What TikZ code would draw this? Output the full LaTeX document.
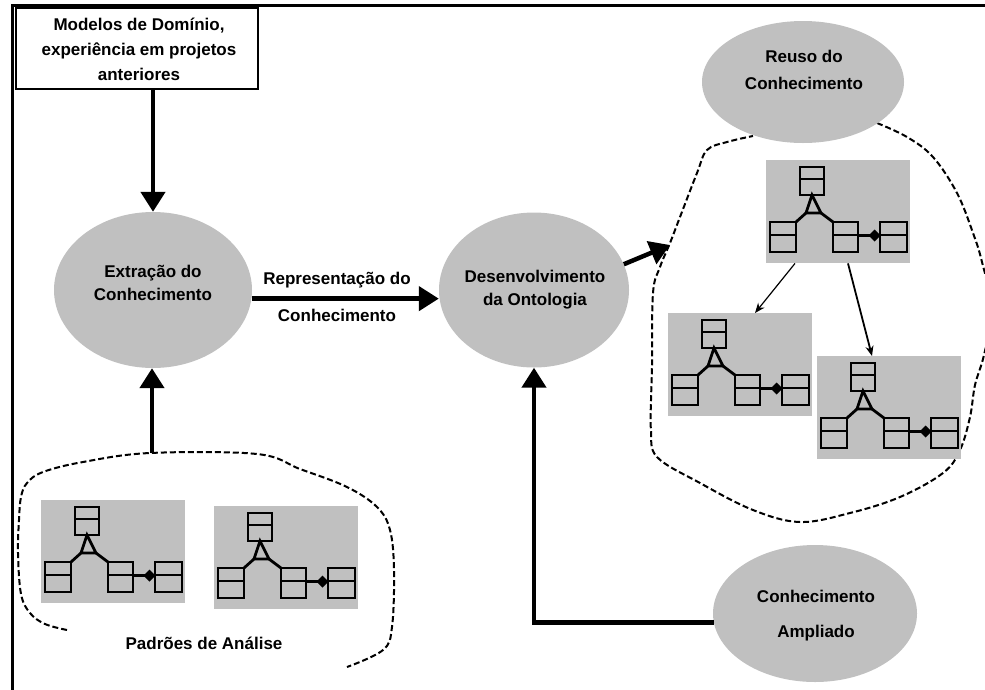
\documentclass[tikz,border=0pt]{standalone}
\usepackage{fontspec}
\setmainfont{Liberation Sans}
\usetikzlibrary{arrows.meta,shapes.geometric,calc}
\definecolor{panelgray}{HTML}{C0C0C0}

\begin{document}
\begin{tikzpicture}[x=1pt,y=-1pt,
  txt/.style={font=\fontsize{17}{#1}\selectfont\bfseries, align=center, inner sep=0pt},
  blob/.style={ellipse, fill=panelgray, inner sep=0pt},
  umlbg/.style={anchor=north west, fill=panelgray, inner sep=0pt,
                minimum width=144pt, minimum height=103pt},
  cls/.style={line width=2.8pt, line join=miter},
  bigarrow/.style={line width=4.5pt, -{Triangle[length=20pt,width=24pt]}},
  thinarrow/.style={line width=#1, -{Stealth[length=10pt,width=8pt]}},
  region/.style={line width=2pt, dash pattern=on 6pt off 3pt},
  frame/.style={line width=3pt},
  umlpic/.pic={
    % superclass with generalisation triangle
    \draw[cls] (34,7) rectangle (58,35) (34,19) -- (58,19);
    \draw[cls] (46,35) -- (40,53) -- (55,53) -- cycle;
    \draw[cls] (40,53) -- (30,62);
    \draw[cls] (55,53) -- (67,62);
    % subclasses
    \draw[cls] (4,62) rectangle (30,92) (4,75) -- (30,75);
    \draw[cls] (67,62) rectangle (92,92) (67,75) -- (92,75);
    % composition
    \draw[cls] (92,75.5) -- (104,75.5);
    \fill (102.5,75.5) -- (108.5,69.5) -- (114.5,75.5) -- (108.5,81.5) -- cycle;
    \draw[cls] (114,62) rectangle (141,92) (114,75) -- (141,75);
  },
]
\useasboundingbox (0,0) rectangle (985,689);

% page frame
\draw[frame] (12,700) -- (12,5) -- (1000,5);

% dashed regions
\draw[region] plot[smooth, tension=0.6] coordinates {
  (67,630) (45,624) (30,613) (21,594) (18,553) (19,520) (21,497) (27,483)
  (43,472) (83,462) (150,453) (257,454) (300,469) (347,487) (377,507)
  (390,530) (394,570) (392,627) (383,650) (347,667)};
\draw[region] plot[smooth, tension=0.6] coordinates {
  (877,123) (907,137) (933,157) (957,193) (973,233) (982,262) (992,310)
  (984,355) (975,385) (970,417) (960,450) (943,473) (900,497) (850,513)
  (800,522) (753,510) (700,483) (657,457) (651,430) (651,400) (652,367)
  (653,293) (660,267) (670,243) (680,217) (697,173) (707,150) (727,142)
  (753,136)};

% process ellipses
\node[blob, minimum width=198pt, minimum height=156pt] (ext) at (153,290) {};
\node[blob, minimum width=190pt, minimum height=155pt] (dev) at (534,290) {};
\node[blob, minimum width=202pt, minimum height=122pt] (reuse) at (803,82) {};
\node[blob, minimum width=204pt, minimum height=137pt] (amp) at (815,613.5) {};

\node[txt=23] (extT) at (153,282.5) {Extração do\\Conhecimento};
\node[txt=23] (devT) at (535,289.5) {Desenvolvimento\\da Ontologia};
\node[txt=27] (reuseT) at (804,69.5) {Reuso do\\Conhecimento};
\node[txt=35] (ampT) at (816,615.5) {Conhecimento\\Ampliado};

% source box
\node[draw, line width=1.4pt, minimum width=242pt, minimum height=81pt,
      inner sep=0pt] (src) at (137,48.5) {};
\node[txt=25] (srcT) at (139,49) {Modelos de Domínio,\\experiência em projetos\\anteriores};

% pattern panels
\node[umlbg] (pl1) at (41,500) {};
\node[umlbg] (pl2) at (214,506) {};
\node[umlbg] (rt) at (766,160) {};
\node[umlbg] (rm1) at (668,313) {};
\node[umlbg] (rm2) at (817,356) {};
\foreach \p in {pl1,pl2,rt,rm1,rm2} \pic at (\p.north west) {umlpic};

\node[txt=20] (patT) at (204,643) {Padrões de Análise};

% main flow
\coordinate (patTop) at (152,453);
\coordinate (reuseIn) at (670,245);
\draw[bigarrow] (src.south -| ext.north) -- (ext.north);
\draw[bigarrow] (patTop) -- (patTop |- ext.south);
\draw[bigarrow] (ext.-5) -- (ext.-5 -| dev.west);
\node[txt=37] (repT) at (337,297) {Representação do\\Conhecimento};
\draw[bigarrow] (dev.16) -- (reuseIn);
\draw[bigarrow] (amp.185) -| (dev.south);

% reuse of patterns
\draw[thinarrow=1.2pt] ($(rt.south west)+(29,0)$) -- ($(rm1.north west)+(87,0)$);
\draw[thinarrow=1.8pt] ($(rt.south west)+(82,0)$) -- ($(rm2.north west)+(55,0)$);
\end{tikzpicture}
\end{document}
